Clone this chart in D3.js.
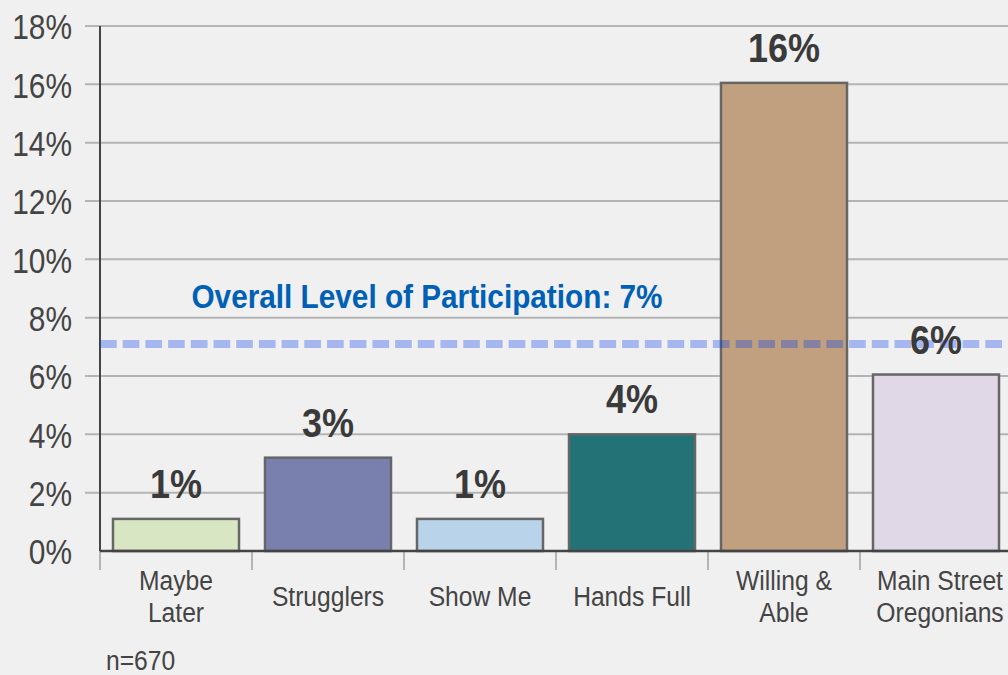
<html>
<head>
<meta charset="UTF-8">
<script src="https://d3js.org/d3.v7.min.js"></script>
<style>
  body { margin: 0; background: #f0f0f0; }
  svg { display: block; font-family: "Liberation Sans", Arial, sans-serif; }
</style>
</head>
<body>
<svg width="1008" height="675"></svg>
<script>
// segments and their participation share (%)
const segments = ["Maybe Later", "Strugglers", "Show Me", "Hands Full", "Willing & Able", "Main Street Oregonians"];
const segmentLines = [["Maybe", "Later"], ["Strugglers"], ["Show Me"], ["Hands Full"], ["Willing &", "Able"], ["Main Street", "Oregonians"]];
const shares = [1.1, 3.2, 1.1, 4.0, 16.05, 6.05];
const shareLabels = ["1%", "3%", "1%", "4%", "16%", "6%"];
const barColors = ["#d9e6c3", "#7980ad", "#b8d3ea", "#237276", "#c0a07e", "#e0d8e6"];
const yTicks = [0, 2, 4, 6, 8, 10, 12, 14, 16, 18];
const overall = 7.1;
const overallLabel = "Overall Level of Participation: 7%";
const sampleNote = "n=670";

const svg = d3.select("svg");
const plotLeft = 100, plotTop = 26, plotBottom = 551;

// no condensed face installed, so text is squeezed horizontally
function narrowText(parent, px, py, sx) {
  return parent.append("text")
    .attr("transform", "translate(" + px + "," + py + ") scale(" + sx + ",1)");
}

const y = d3.scaleLinear().domain([0, 18]).range([plotBottom, plotTop]);
const x = d3.scaleBand().domain(segments).range([plotLeft, plotLeft + 152 * 6])
  .paddingInner(0.171).paddingOuter(0.0855);
const gap = (x.step() - x.bandwidth()) / 2;

// grid lines
svg.append("g").selectAll("line").data(yTicks.filter(d => d > 0)).enter()
  .append("line")
  .attr("x1", 85).attr("x2", 1008)
  .attr("y1", d => y(d)).attr("y2", d => y(d))
  .attr("stroke", "#b4b4b4").attr("stroke-width", 2);

// y axis labels
const ySx = 0.83;
const yAxis = svg.append("g").attr("transform", "translate(" + plotLeft + ",0)")
  .call(d3.axisLeft(y).tickValues(yTicks).tickSize(0).tickFormat(d => d + "%"));
yAxis.select(".domain").remove();
yAxis.selectAll("text")
  .attr("x", -28 / ySx)
  .attr("transform", "scale(" + ySx + ",1)")
  .attr("font-size", 36).attr("fill", "#444")
  .attr("font-family", "Liberation Sans, Arial, sans-serif").attr("dy", "0.36em");

// category separators
const bounds = segments.map(s => x(s) - gap).concat([x(segments[5]) + x.bandwidth() + gap]);
svg.append("g").selectAll("line").data(bounds).enter()
  .append("line")
  .attr("x1", d => d).attr("x2", d => d)
  .attr("y1", plotBottom).attr("y2", 570)
  .attr("stroke", "#b4b4b4").attr("stroke-width", 2);

// bars
svg.append("g").selectAll("rect").data(segments).enter()
  .append("rect")
  .attr("x", d => x(d))
  .attr("y", (d, i) => y(shares[i]))
  .attr("width", x.bandwidth())
  .attr("height", (d, i) => y(0) - y(shares[i]))
  .attr("fill", (d, i) => barColors[i])
  .attr("stroke", "#666").attr("stroke-width", 2.5);

// axis lines
svg.append("line").attr("x1", plotLeft).attr("x2", plotLeft).attr("y1", plotTop).attr("y2", plotBottom)
  .attr("stroke", "#444").attr("stroke-width", 2);
svg.append("line").attr("x1", plotLeft).attr("x2", 1008).attr("y1", plotBottom).attr("y2", plotBottom)
  .attr("stroke", "#444").attr("stroke-width", 2.5);

// overall dashed line
svg.append("line")
  .attr("x1", plotLeft).attr("x2", 1008)
  .attr("y1", y(overall)).attr("y2", y(overall))
  .attr("stroke", "#0a3df0").attr("stroke-opacity", 0.32)
  .attr("stroke-width", 8).attr("stroke-dasharray", "16.7,6");

narrowText(svg, 427, 308, 0.875)
  .attr("text-anchor", "middle")
  .attr("font-size", 34).attr("font-weight", "bold")
  .attr("fill", "#0060b5")
  .text(overallLabel);

// value labels
segments.forEach((s, i) => {
  narrowText(svg, x(s) + x.bandwidth() / 2, y(shares[i]) - 21, 0.9)
    .attr("text-anchor", "middle")
    .attr("font-size", 40).attr("font-weight", "bold").attr("fill", "#3a3a3a")
    .text(shareLabels[i]);
});

// category labels
segments.forEach((s, i) => {
  const lines = segmentLines[i];
  const t = narrowText(svg, x(s) + x.bandwidth() / 2 + (i === 5 ? 4 : 0), lines.length > 1 ? 590 : 606, 0.88)
    .attr("text-anchor", "middle")
    .attr("font-size", 28).attr("fill", "#444");
  lines.forEach((line, k) => {
    t.append("tspan").attr("x", 0).attr("dy", k === 0 ? 0 : 32).text(line);
  });
});

narrowText(svg, 106, 670, 0.88)
  .attr("font-size", 28).attr("fill", "#444")
  .text(sampleNote);
</script>
</body>
</html>
